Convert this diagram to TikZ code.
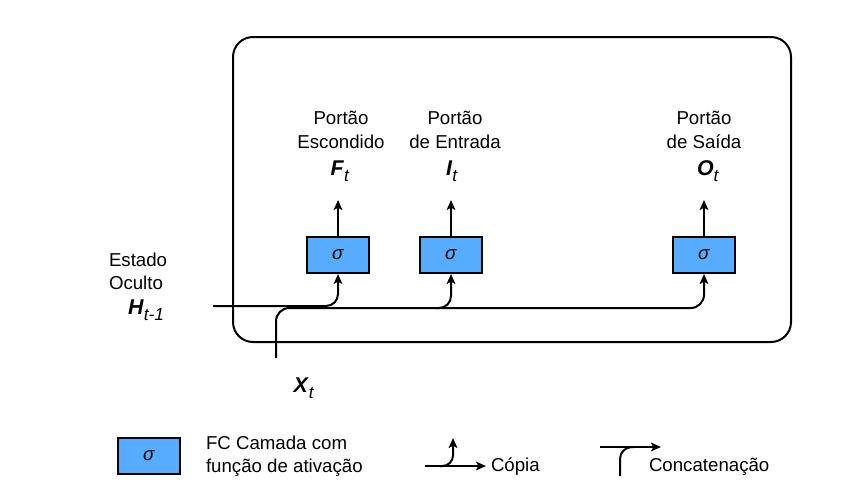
\documentclass[tikz,border=0pt]{standalone}
\usepackage{fontspec}
\setmainfont{Liberation Sans}
\usetikzlibrary{arrows.meta,positioning}
\definecolor{gateblue}{RGB}{86,172,255}
\newcommand{\vsub}[2]{\textbf{\textit{#1}}\raisebox{-4.5pt}{\fontsize{13}{13}\selectfont\textit{#2}}}

\begin{document}
\begin{tikzpicture}[x=0.75pt, y=-0.75pt, line width=1.5pt,
    font=\fontsize{14}{17.5}\selectfont]
    % Define styles
    \tikzstyle{gate} = [rectangle, draw, fill=gateblue, minimum width=46.5pt, minimum height=27pt, inner sep=0pt]
    \tikzstyle{line} = [draw, -{Stealth[length=7.5pt, width=6.5pt, inset=1.8pt]}]
    \tikzstyle{caption} = [align=center, inner sep=0pt]
    \tikzstyle{var} = [inner sep=0pt, font=\fontsize{16}{16}\selectfont]

    \useasboundingbox (0,0) rectangle (859,497);

    % Cell box
    \draw[rounded corners=15pt] (233,37) rectangle (791,342);

    % Gates
    \node [gate] (fgate) at (338,255) {\textit{σ}};
    \node [gate] (igate) at (451,255) {\textit{σ}};
    \node [gate] (ogate) at (704,255) {\textit{σ}};

    % Gate outputs
    \node [var] (fout) at (340,171) {\vsub{F}{t}};
    \node [var] (iout) at (452,171) {\vsub{I}{t}};
    \node [var] (oout) at (708,171) {\vsub{O}{t}};
    \node [caption] (fname) at (341,130) {Portão\\Escondido};
    \node [caption] (iname) at (455,130) {Portão\\de Entrada};
    \node [caption] (oname) at (704,130) {Portão\\de Saída};

    \path [line] (fgate) -- (fgate.north |- 0,200);
    \path [line] (igate) -- (igate.north |- 0,200);
    \path [line] (ogate) -- (ogate.north |- 0,200);

    % Inputs
    \node [anchor=west, align=left, inner sep=0pt] (hname) at (108,271) {Estado\\Oculto};
    \node [var] (hin) at (146,310) {\vsub{H}{t-1}};
    \node [var] (xin) at (304,388) {\vsub{X}{t}};
    \coordinate (hstart) at (213,306);
    \coordinate (xstart) at (276,358);
    \coordinate (busend) at (704,308);
    \coordinate (ibranch) at (436,308);

    \path [line, rounded corners=9pt] (hstart) -- (fgate.south |- hstart) -- (fgate.south);
    \path [line, rounded corners=10pt] (xstart) -- (xstart |- busend) -- (busend) -- (ogate.south);
    \path [line, rounded corners=9pt] (ibranch) -- (igate.south |- ibranch) -- (igate.south);

    % Legend
    \node [gate] (legbox) at (149,456) {\textit{σ}};
    \node [anchor=west, align=left, inner sep=0pt] (legtext) at (205,456) {FC Camada com\\função de ativação};

    \node [anchor=west, inner sep=0pt] (copytext) at (490,467) {Cópia};
    \coordinate (copystart) at (425,466);
    \coordinate (copybranch) at (440,466);
    \path [line] (copystart) -- (486,466);
    \path [line, rounded corners=8pt] (copybranch) -- (453,466) -- (453,438);

    \node [anchor=west, inner sep=0pt] (cattext) at (648,467) {Concatenação};
    \coordinate (catstart) at (600,447);
    \coordinate (catfoot) at (620,476);
    \path [line] (catstart) -- (661,447);
    \draw [rounded corners=9pt] (catfoot) -- (catfoot |- catstart) -- (634,447);
\end{tikzpicture}
\end{document}
